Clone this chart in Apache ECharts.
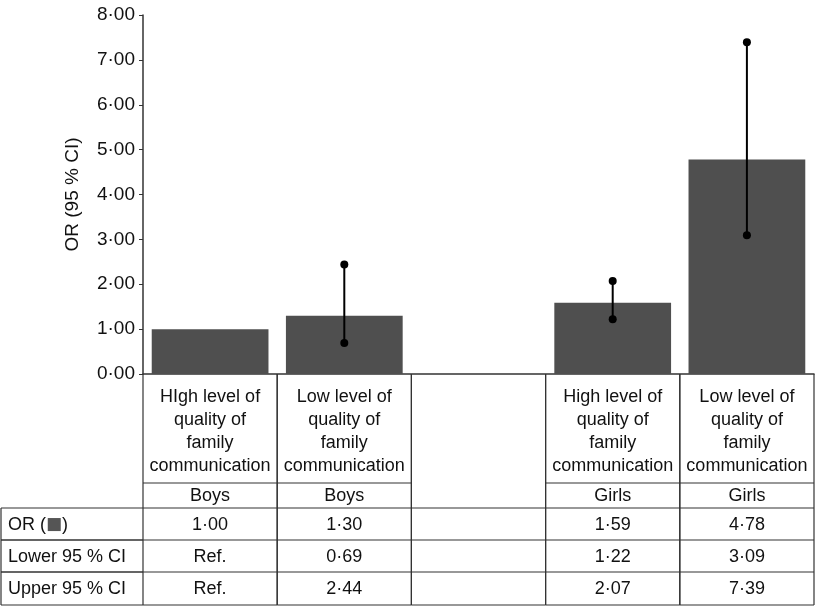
<!DOCTYPE html>
<html>
<head>
<meta charset="utf-8">
<script src="https://cdn.jsdelivr.net/npm/echarts@6/dist/echarts.min.js"></script>
<style>
html, body { margin: 0; padding: 0; background: #fff; }
#main { width: 815px; height: 607px; }
</style>
</head>
<body>
<div id="main"></div>
<script>
// 数据
var categories = ['HIgh level of\nquality of\nfamily\ncommunication', 'Low level of\nquality of\nfamily\ncommunication', '',
  'High level of\nquality of\nfamily\ncommunication', 'Low level of\nquality of\nfamily\ncommunication'];
var groups = ['Boys', 'Boys', '', 'Girls', 'Girls'];
var orValues = [1.00, 1.30, null, 1.59, 4.78];
var lowerCI = [null, 0.69, null, 1.22, 3.09];
var upperCI = [null, 2.44, null, 2.07, 7.39];
var refFlags = [true, false, false, false, false];
var rowLabels = ['OR (', 'Lower 95 % CI', 'Upper 95 % CI'];
var yTicks = { min: 0, max: 8, interval: 1 };

var FONT = '"Liberation Sans", Arial, sans-serif';
var LINE = '#333';

function fmt(v) {
  return v.toFixed(2).replace('.', '·');
}

let chart = echarts.init(document.getElementById('main'));

// 表格单元格文字
function cellText(i, row) {
  if (row === 0) return orValues[i] == null ? '' : fmt(orValues[i]);
  if (refFlags[i]) return 'Ref.';
  let arr = row === 1 ? lowerCI : upperCI;
  return arr[i] == null ? '' : fmt(arr[i]);
}

// 表格行的位置
var tbl = { top: 374, head: 483, group: 508, rows: [508, 540, 572, 605] };

function hline(x1, x2, y) {
  return { type: 'line', shape: { x1: x1, y1: y, x2: x2, y2: y }, style: { stroke: LINE, lineWidth: 1.2 } };
}
function vline(x, y1, y2) {
  return { type: 'line', shape: { x1: x, y1: y1, x2: x, y2: y2 }, style: { stroke: LINE, lineWidth: 1.2 } };
}
function txt(str, x, y, align) {
  return {
    type: 'text',
    style: { text: str, x: x, y: y, align: align || 'center', verticalAlign: 'middle',
      font: '18px ' + FONT, fill: '#111', lineHeight: 22.8 }
  };
}

function renderTable(params, api) {
  let i = api.value(0);
  let xc = api.coord([i, 0])[0];
  let w = api.size([1, 0])[0];
  let x1 = xc - w / 2, x2 = xc + w / 2;
  let ch = [];
  // 竖线
  ch.push(vline(x1, tbl.top, tbl.rows[3]));
  ch.push(vline(x2, tbl.top, tbl.rows[3]));
  if (categories[i]) {
    ch.push(txt(categories[i], xc, (tbl.top + tbl.head) / 2 + 3));
    ch.push(hline(x1, x2, tbl.head));
    ch.push(txt(groups[i], xc, (tbl.head + tbl.group) / 2 + 1));
  }
  ch.push(hline(x1, x2, tbl.group));
  for (let r = 0; r < 3; r++) {
    ch.push(hline(x1, x2, tbl.rows[r + 1]));
    ch.push(txt(cellText(i, r), xc, (tbl.rows[r] + tbl.rows[r + 1]) / 2 + 1));
  }
  // 左侧行标题
  if (i === 0) {
    ch.push(vline(1, tbl.group, tbl.rows[3]));
    for (let r = 0; r < 3; r++) {
      ch.push(hline(1, x1, tbl.rows[r]));
      ch.push(hline(1, x1, tbl.rows[r + 1]));
      let yy = (tbl.rows[r] + tbl.rows[r + 1]) / 2 + 1;
      if (r === 0) {
        ch.push({
          type: 'text',
          style: { text: '{a|OR (}{b|■}{a|)}', x: 8, y: yy, align: 'left', verticalAlign: 'middle',
            rich: { a: { font: '18px ' + FONT, fill: '#111' }, b: { font: '17px "DejaVu Sans"', fill: '#555' } } }
        });
      } else {
        ch.push(txt(rowLabels[r], 8, yy, 'left'));
      }
    }
  }
  return { type: 'group', children: ch };
}

function renderErr(params, api) {
  let i = api.value(0);
  let p1 = api.coord([i, api.value(1)]);
  let p2 = api.coord([i, api.value(2)]);
  return {
    type: 'group',
    children: [
      { type: 'line', shape: { x1: p1[0], y1: p1[1], x2: p2[0], y2: p2[1] }, style: { stroke: '#000', lineWidth: 2 } },
      { type: 'circle', shape: { cx: p1[0], cy: p1[1], r: 4 }, style: { fill: '#000' } },
      { type: 'circle', shape: { cx: p2[0], cy: p2[1], r: 4 }, style: { fill: '#000' } }
    ]
  };
}

let errData = [];
lowerCI.forEach(function(v, i) {
  if (v != null) errData.push([i, v, upperCI[i]]);
});

let option = {
  animation: false,
  backgroundColor: '#fff',
  grid: { left: 143, right: 1, top: 15, height: 359 },
  xAxis: {
    type: 'category',
    data: categories,
    axisLine: { lineStyle: { color: LINE, width: 1.5 } },
    axisTick: { inside: true, length: 6, lineStyle: { color: LINE } },
    axisLabel: { show: false }
  },
  yAxis: {
    type: 'value',
    min: yTicks.min,
    max: yTicks.max,
    interval: yTicks.interval,
    name: 'OR (95 % CI)',
    nameLocation: 'middle',
    nameGap: 61,
    nameTextStyle: { fontFamily: FONT, fontSize: 19, color: '#111' },
    axisLine: { show: true, lineStyle: { color: LINE, width: 1.5 } },
    axisTick: { show: true, length: 4, lineStyle: { color: LINE } },
    splitLine: { show: false },
    axisLabel: {
      fontFamily: FONT, fontSize: 19, color: '#111', margin: 8,
      formatter: function(v) { return fmt(v); }
    }
  },
  series: [
    {
      type: 'bar',
      data: orValues.map(function(v) { return v == null ? '-' : v; }),
      barCategoryGap: '13%',
      itemStyle: { color: '#4f4f4f' }
    },
    {
      type: 'custom',
      data: errData,
      renderItem: renderErr,
      z: 5
    },
    {
      type: 'custom',
      data: categories.map(function(c, i) { return [i]; }),
      renderItem: renderTable,
      clip: false,
      silent: true,
      z: 3
    }
  ]
};
chart.setOption(option);
</script>
</body>
</html>
